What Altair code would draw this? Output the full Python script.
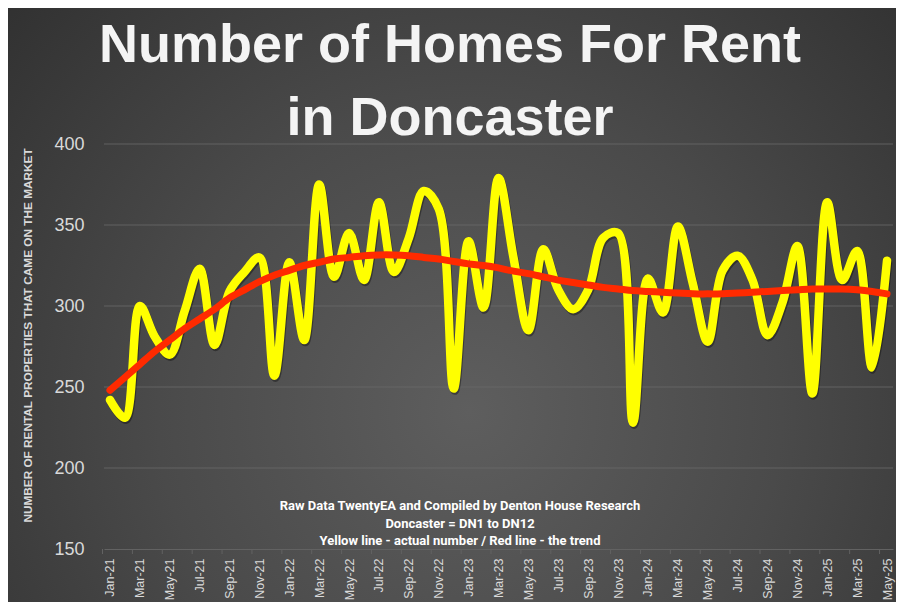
import altair as alt
import pandas as pd

MONTHS = [
    "Jan-21", "Feb-21", "Mar-21", "Apr-21", "May-21", "Jun-21", "Jul-21", "Aug-21", "Sep-21", "Oct-21", "Nov-21", "Dec-21",
    "Jan-22", "Feb-22", "Mar-22", "Apr-22", "May-22", "Jun-22", "Jul-22", "Aug-22", "Sep-22", "Oct-22", "Nov-22", "Dec-22",
    "Jan-23", "Feb-23", "Mar-23", "Apr-23", "May-23", "Jun-23", "Jul-23", "Aug-23", "Sep-23", "Oct-23", "Nov-23", "Dec-23",
    "Jan-24", "Feb-24", "Mar-24", "Apr-24", "May-24", "Jun-24", "Jul-24", "Aug-24", "Sep-24", "Oct-24", "Nov-24", "Dec-24",
    "Jan-25", "Feb-25", "Mar-25", "Apr-25", "May-25",
]

ACTUAL = [
    242, 231, 300, 281, 270, 297, 323, 276, 309, 321, 330, 257,
    327, 279, 375, 318, 345, 316, 364, 321, 342, 371, 360, 249,
    340, 299, 379, 330, 285, 335, 310, 298, 310, 342, 345, 228,
    317, 296, 349, 314, 278, 322, 331, 316, 282, 302, 337, 246,
    364, 316, 334, 262, 328,
]

TREND = [
    248, 256, 264, 272, 279, 286, 292, 298, 305, 310, 315, 319,
    322, 325, 327, 329, 330, 331, 331.5, 331.5, 331, 330, 329, 327.5,
    326, 325, 323.5, 321.5, 320, 318, 316, 314.5, 313, 311.5, 310.5, 309.5,
    309, 308.5, 308, 307.5, 307.5, 307.5, 308, 308.5, 309, 309.5, 310, 310.5,
    310.5, 310.5, 310, 309, 307.5,
]

Y_TICKS = [150, 200, 250, 300, 350, 400]

TITLE_LINES = ["Number of Homes For Rent", "in Doncaster"]
NOTE_LINES = [
    "Raw Data TwentyEA and Compiled by Denton House Research",
    "Doncaster  = DN1 to DN12",
    "Yellow line - actual number / Red line - the trend",
]
Y_TITLE = "NUMBER OF RENTAL PROPERTIES THAT CAME ON THE MARKET"

W, H = 789, 405
PAD = {"left": 96, "top": 136, "right": 3, "bottom": 53}

df = pd.DataFrame({"i": list(range(len(MONTHS))), "month": MONTHS,
                   "actual": ACTUAL, "trend": TREND})

label_js = "[" + ",".join("'" + m + "'" for m in MONTHS) + "]"

xscale = alt.Scale(domain=[-0.4, len(MONTHS) - 1 + 0.4], nice=False, zero=False)
yscale = alt.Scale(domain=[150, 400], nice=False, zero=False)

x_axis = alt.Axis(
    values=list(range(0, len(MONTHS), 2)),
    labelExpr=label_js + "[datum.value]",
    labelAngle=270,
    labelFontSize=12.5,
    labelFont="Liberation Sans",
    labelColor="#d9d9d9",
    labelPadding=9,
    labelOverlap=False,
    labelBound=False,
    labelFlush=False,
    labelSeparation=0,
    ticks=False,
    grid=False,
    domainColor="#626262",
    domainWidth=1,
    title=None,
    zindex=1,
)

y_axis = alt.Axis(
    values=Y_TICKS,
    labelFontSize=18,
    labelFont="Liberation Sans",
    labelColor="#d9d9d9",
    labelPadding=20,
    labelOverlap=False,
    ticks=False,
    domain=False,
    grid=False,
    title=Y_TITLE,
    titleFont="Liberation Sans",
    titleFontSize=11.8,
    titleFontWeight="bold",
    titleColor="#d9d9d9",
    titleAngle=270,
    titleX=-77,
    titleY=191,
    titleAlign="center",
    titleBaseline="middle",
    zindex=1,
)

bg = alt.Chart(alt.Data(values=[{}])).mark_rect(
    fill=alt.RadialGradient(
        gradient="radial",
        stops=[
            alt.GradientStop(color="#5e5e5e", offset=0),
            alt.GradientStop(color="#4a4a4a", offset=0.45),
            alt.GradientStop(color="#2b2b2b", offset=1),
        ],
        x1=0.52, y1=0.62, r1=0,
        x2=0.52, y2=0.62, r2=0.78,
    ),
    stroke=None,
).encode(
    x=alt.value(-PAD["left"]),
    x2=alt.value(W + PAD["right"]),
    y=alt.value(-PAD["top"]),
    y2=alt.value(H + PAD["bottom"]),
)

grid = alt.Chart(pd.DataFrame({"v": Y_TICKS[1:]})).mark_rule(
    color="#6a6a6a", strokeWidth=1, opacity=0.8
).encode(y=alt.Y("v:Q", scale=yscale, axis=y_axis))

# category-boundary tick marks on the x axis (every second boundary)
tick_pos = pd.DataFrame({"t": [k - 0.5 for k in range(0, len(MONTHS), 2)]})
xticks = alt.Chart(tick_pos).mark_rule(color="#626262", strokeWidth=1).encode(
    x=alt.X("t:Q", scale=xscale, axis=x_axis),
    y=alt.value(H),
    y2=alt.value(H + 5),
)

base = alt.Chart(df)
X = alt.X("i:Q", scale=xscale, axis=x_axis)

shadow = base.mark_line(
    interpolate="catmull-rom", color="#000000", opacity=0.35,
    strokeWidth=8.5, xOffset=1, yOffset=2, strokeCap="round", strokeJoin="round"
).encode(x=X, y=alt.Y("actual:Q", scale=yscale))

actual = base.mark_line(
    interpolate="catmull-rom", color="#ffff00", strokeWidth=8.5,
    strokeCap="round", strokeJoin="round"
).encode(x=X, y=alt.Y("actual:Q", scale=yscale))

trend = base.mark_line(
    interpolate="catmull-rom", color="#ff2a00", strokeWidth=7, strokeCap="round"
).encode(x=X, y=alt.Y("trend:Q", scale=yscale))

title = alt.Chart(alt.Data(values=[{}])).mark_text(
    text=TITLE_LINES, font="Liberation Sans", fontSize=54, fontWeight="bold",
    color="#f4f4f4", align="center", baseline="alphabetic", lineHeight=73,
).encode(x=alt.value(346), y=alt.value(-82))

notes = []
for k, line in enumerate(NOTE_LINES):
    notes.append(
        alt.Chart(alt.Data(values=[{}])).mark_text(
            text=line, font="Roboto", fontSize=13,
            fontWeight="bold", color="#ffffff", align="center", baseline="middle",
        ).encode(x=alt.value(356), y=alt.value(362 + k * 17.5))
    )

chart = alt.layer(bg, grid, xticks, shadow, actual, trend, title, *notes).properties(
    width=W, height=H,
    autosize=alt.AutoSizeParams(type="none"),
    padding=PAD,
).configure(background="#2b2b2b").configure_view(stroke=None).configure_axis(
    labelOverlap=False
)

chart.save("out.html", embed_options={"renderer": "svg", "actions": False})
